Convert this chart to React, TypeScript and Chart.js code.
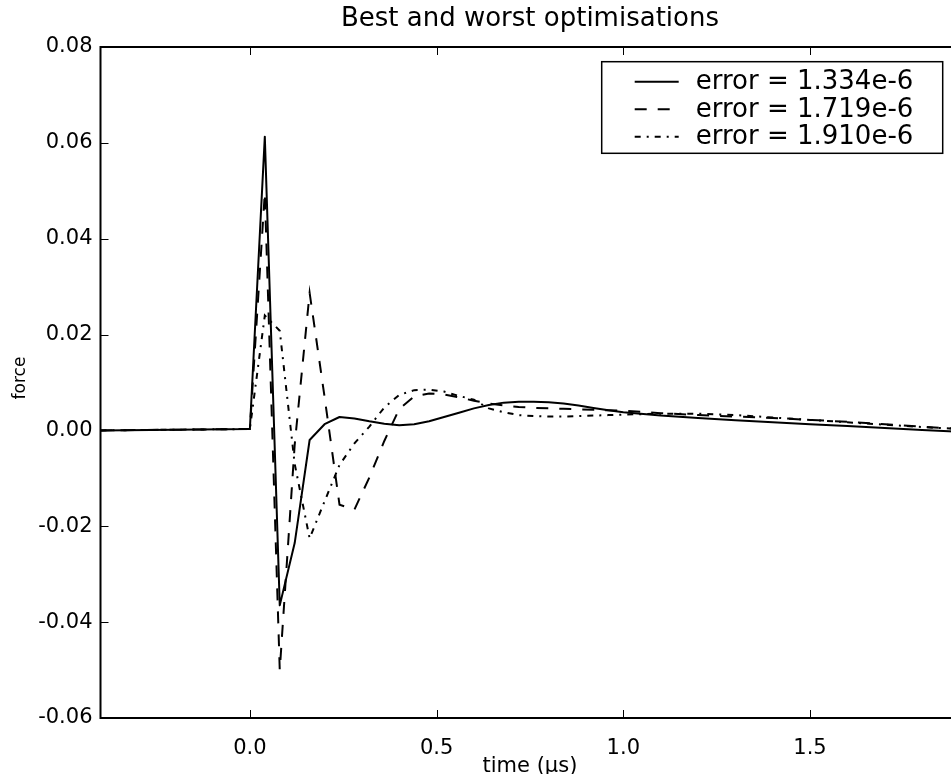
import React, { useEffect, useRef } from "react";
import { Chart, registerables } from "chart.js";

Chart.register(...registerables);

const chartTitle = "Best and worst optimisations";
const xTitle = "time (\u00b5s)";
const yTitle = "force";

const times = [-0.4, 0, 0.04, 0.08, 0.12, 0.16, 0.2, 0.24, 0.28, 0.32, 0.36, 0.4, 0.44, 0.48, 0.52, 0.56, 0.6, 0.64, 0.68, 0.72, 0.76, 0.8, 0.84, 0.88, 0.92, 0.96, 1.0, 1.1, 1.2, 1.3, 1.4, 1.5, 1.6, 1.7, 1.8, 1.9];

const bestLabel = "error = 1.334e-6";
const bestForce = [0, 0.0003, 0.0613, -0.0365, -0.0235, -0.002, 0.0013, 0.0028, 0.0025, 0.0019, 0.0014, 0.0011, 0.0013, 0.0019, 0.0028, 0.0037, 0.0046, 0.0053, 0.0058, 0.006, 0.006, 0.0059, 0.0056, 0.0052, 0.0047, 0.0042, 0.0038, 0.0031, 0.0026, 0.0021, 0.0017, 0.0013, 0.0009, 0.0005, 0.0001, -0.0003];

const midLabel = "error = 1.719e-6";
const midForce = [0, 0.0003, 0.0496, -0.05, -0.003, 0.0287, 0.007, -0.0155, -0.0165, -0.0098, -0.0022, 0.0045, 0.0071, 0.0077, 0.0075, 0.0069, 0.0062, 0.0056, 0.0052, 0.0049, 0.0047, 0.0046, 0.0045, 0.0044, 0.0043, 0.0042, 0.0041, 0.0036, 0.0032, 0.0029, 0.0026, 0.0022, 0.0018, 0.0013, 0.0008, 0.0003];

const worstLabel = "error = 1.910e-6";
const worstForce = [0, 0.0003, 0.024, 0.0208, -0.007, -0.0225, -0.0148, -0.0072, -0.0027, 0.0008, 0.0048, 0.0074, 0.0084, 0.0085, 0.0081, 0.0072, 0.0064, 0.0046, 0.0038, 0.0032, 0.003, 0.0029, 0.0029, 0.003, 0.0031, 0.0032, 0.0033, 0.0035, 0.0035, 0.0032, 0.0027, 0.0022, 0.0017, 0.0012, 0.0007, 0.0003];

const xTicks = [0, 0.5, 1.0, 1.5];
const yTicks = [-0.06, -0.04, -0.02, 0, 0.02, 0.04, 0.06, 0.08];
const xMin = -0.4;
const xMax = 1.9;
const yMin = -0.06;
const yMax = 0.08;

const FONT = "'DejaVu Sans', 'Bitstream Vera Sans', sans-serif";

const toPoints = (ys: number[]) => times.map((t, i) => ({ x: t, y: ys[i] }));

const decorPlugin = {
  id: "decor",
  afterDatasetsDraw(chart: any) {
    const { ctx, chartArea, scales } = chart;
    const { left, top, right, bottom } = chartArea;
    const xs = scales.x;
    const ys = scales.y;
    ctx.save();
    ctx.strokeStyle = "#000";
    ctx.lineWidth = 1;
    const seg = (x1: number, y1: number, x2: number, y2: number) => {
      ctx.beginPath();
      ctx.moveTo(x1, y1);
      ctx.lineTo(x2, y2);
      ctx.stroke();
    };
    xTicks.forEach((v) => {
      const px = Math.round(xs.getPixelForValue(v)) + 0.5;
      seg(px, bottom, px, bottom - 8);
      seg(px, top, px, top + 8);
    });
    yTicks.forEach((v) => {
      const py = Math.round(ys.getPixelForValue(v)) + 0.5;
      seg(left, py, left + 8, py);
      seg(right, py, right - 8, py);
    });
    ctx.lineWidth = 2;
    ctx.strokeRect(left, top, right - left, bottom - top);

    // title
    ctx.fillStyle = "#000";
    ctx.font = `26px ${FONT}`;
    ctx.textAlign = "center";
    ctx.textBaseline = "alphabetic";
    ctx.fillText(chartTitle, (left + right) / 2, 26);

    // x title
    ctx.font = `21px ${FONT}`;
    ctx.fillText(xTitle, (left + right) / 2, 772);

    // y title
    ctx.save();
    ctx.translate(25, 378);
    ctx.rotate(-Math.PI / 2);
    ctx.font = `17px ${FONT}`;
    ctx.textAlign = "center";
    ctx.fillText(yTitle, 0, 0);
    ctx.restore();

    // legend
    const bx = right - 357.7;
    const by = top + 14.7;
    const bw = 341;
    const bh = 91.6;
    ctx.fillStyle = "#fff";
    ctx.fillRect(bx, by, bw, bh);
    ctx.lineWidth = 1.5;
    ctx.strokeStyle = "#000";
    ctx.strokeRect(bx, by, bw, bh);
    const items = chart.data.datasets;
    ctx.font = `26px ${FONT}`;
    ctx.textAlign = "left";
    ctx.textBaseline = "middle";
    items.forEach((ds: any, i: number) => {
      const cy = by + 20 + i * 27.5;
      ctx.save();
      ctx.strokeStyle = "#000";
      ctx.lineWidth = ds.borderWidth;
      ctx.setLineDash(ds.borderDash || []);
      seg(bx + 33, cy, bx + 77, cy);
      ctx.restore();
      ctx.fillStyle = "#000";
      ctx.fillText(ds.label, bx + 94, cy + 1);
    });
    ctx.restore();
  },
};

export default function App() {
  const ref = useRef<HTMLCanvasElement | null>(null);
  useEffect(() => {
    if (!ref.current) return;
    const chart = new Chart(ref.current, {
      type: "line",
      data: {
        datasets: [
          {
            label: bestLabel,
            data: toPoints(bestForce),
            borderColor: "#000",
            borderWidth: 2,
            pointRadius: 0,
            tension: 0,
            fill: false,
            borderJoinStyle: "round",
          },
          {
            label: midLabel,
            data: toPoints(midForce),
            borderColor: "#000",
            borderWidth: 2,
            borderDash: [12, 11],
            pointRadius: 0,
            tension: 0,
            fill: false,
          },
          {
            label: worstLabel,
            data: toPoints(worstForce),
            borderColor: "#000",
            borderWidth: 2,
            borderDash: [6, 6, 2, 6],
            pointRadius: 0,
            tension: 0,
            fill: false,
          },
        ],
      },
      options: {
        animation: false,
        responsive: false,
        maintainAspectRatio: false,
        layout: { padding: { top: 47, right: 1.6, bottom: 0, left: 0 } },
        plugins: {
          legend: { display: false },
          title: { display: false },
          tooltip: { enabled: false },
        },
        scales: {
          x: {
            type: "linear",
            min: xMin,
            max: xMax,
            grid: { display: false, drawTicks: false },
            border: { display: false },
            afterBuildTicks: (s: any) => {
              s.ticks = xTicks.map((v) => ({ value: v }));
            },
            afterFit: (s: any) => {
              s.height = 56;
            },
            ticks: {
              color: "#000",
              padding: 18,
              maxRotation: 0,
              font: { family: FONT, size: 21 },
              callback: (v: any) => Number(v).toFixed(1),
            },
          },
          y: {
            type: "linear",
            min: yMin,
            max: yMax,
            grid: { display: false, drawTicks: false },
            border: { display: false },
            afterBuildTicks: (s: any) => {
              s.ticks = yTicks.map((v) => ({ value: v }));
            },
            afterFit: (s: any) => {
              s.width = 100.5;
            },
            ticks: {
              color: "#000",
              padding: 8,
              font: { family: FONT, size: 21 },
              callback: (v: any) => Number(v).toFixed(2),
            },
          },
        },
      },
      plugins: [decorPlugin],
    });
    return () => chart.destroy();
  }, []);
  return (
    <div style={{ position: "absolute", left: 0, top: 0, width: 951, height: 774, overflow: "hidden", background: "#fff" }}>
      <canvas ref={ref} width={961} height={774} style={{ width: 961, height: 774, display: "block" }} />
    </div>
  );
}
